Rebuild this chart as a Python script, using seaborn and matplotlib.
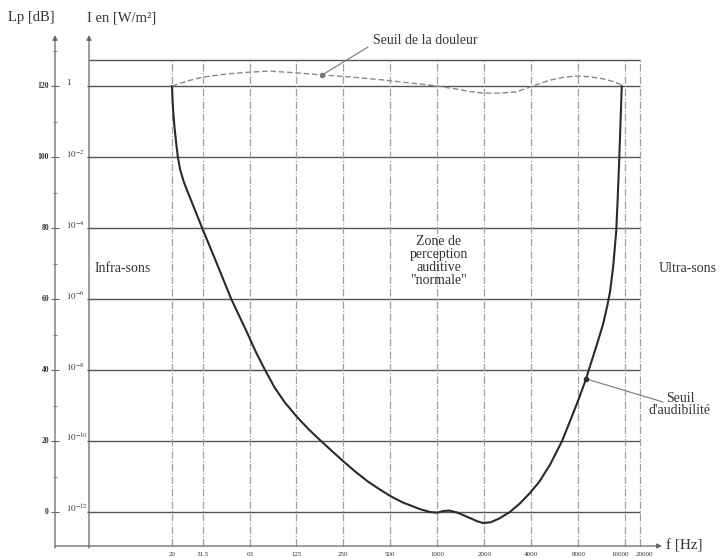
import matplotlib
matplotlib.use("Agg")
import matplotlib.pyplot as plt
import pandas as pd
import seaborn as sns

# Threshold of hearing: frequency [Hz] and sound level [dB]
hearing_freq = [20, 20.14, 20.35, 20.7, 21.2, 21.8, 22.6, 23.8, 25.3, 28.1, 31.2,
                38.4, 47.9, 60.6, 69, 78.9, 91, 105, 125, 150, 180, 210, 250, 300,
                359, 420, 500, 600, 776, 900, 1000, 1100, 1200, 1350, 1600, 1800,
                1960, 2200, 2500, 2920, 3400, 3930, 4500, 5300, 6300, 7000, 8000,
                8980, 9420, 10500, 11550, 12260, 12780, 13380, 14000, 14300, 14600,
                14900, 15200]
hearing_db = [120, 116.5, 113, 109, 104.5, 100, 96.3, 93, 90, 85, 80,
              70.4, 60, 50.5, 45, 40, 35, 31, 27, 23.3, 20, 17.3, 14.3, 11.3,
              8.6, 6.6, 4.5, 2.7, 0.8, 0, -0.2, 0.3, 0.4, -0.2, -1.6, -2.6,
              -3.1, -2.9, -1.8, 0, 2.5, 5.4, 8.5, 13.5, 20, 25, 31.5,
              37.5, 40.5, 47, 53, 58, 62, 69, 79, 88, 98,
              109, 120]

# Threshold of pain
pain_freq = [20, 25, 31.5, 45, 63, 84, 126, 183, 250, 320, 450, 600, 800, 1000,
             1300, 1600, 1960, 2500, 3200, 4100, 5200, 6500, 7800, 9500, 11600,
             13500, 14700, 15200]
pain_db = [120, 121.4, 122.5, 123.4, 123.9, 124.2, 123.7, 123.1, 122.7, 122.3,
           121.7, 121.1, 120.5, 120, 119.2, 118.5, 118, 118, 118.3, 120, 121.6,
           122.5, 122.8, 122.6, 122, 121.2, 120.6, 120]

grid_freq = [20, 31.5, 63, 125, 250, 500, 1000, 2000, 4000, 8000, 16000, 20000]
freq_labels = ["20", "31.5", "63", "125", "250", "500", "1000", "2000",
               "4000", "8000", "16000", "20000"]
level_db = [0, 20, 40, 60, 80, 100, 120]
level_labels = ["0", "20", "40", "60", "80", "100", "120"]
intensity_labels = [r"$10^{-12}$", r"$10^{-10}$", r"$10^{-8}$", r"$10^{-6}$",
                    r"$10^{-4}$", r"$10^{-2}$", "1"]

sns.set_theme(style="white")
plt.rcParams["font.family"] = ["Liberation Serif", "DejaVu Serif"]
plt.rcParams["mathtext.fontset"] = "stix"

W, H = 724, 558
fig = plt.figure(figsize=(W / 100, H / 100), dpi=100)
ax = fig.add_axes([0, 0, 1, 1])
ax.set_xscale("log")


# page layout helpers: pixel column -> frequency, pixel row -> dB
def fx(px):
    return 20 * 2 ** ((px - 172) / 47)


def dby(py):
    return (512 - py) * 120 / 426


ax.set_xlim(fx(0), fx(W))
ax.set_ylim(dby(H), dby(0))
ax.axis("off")

ink = "#2a2a2a"
grid_h = "#555555"
grid_v = "#a0a0a0"
top_db = dby(60)
bottom_db = dby(546)

# grid
ax.hlines(level_db, fx(87), grid_freq[-1], color=grid_h, lw=1.0, zorder=1)
ax.hlines(top_db, fx(89), grid_freq[-1], color=grid_h, lw=1.0, zorder=1)
ax.vlines(grid_freq, bottom_db, top_db, color=grid_v, lw=0.9,
          linestyles=[(0, (6, 1.5, 1, 1.5))], zorder=1)

# axes with arrows
arrow_kw = dict(arrowstyle="-|>", color="#666666", lw=0.9, mutation_scale=7,
                shrinkA=0, shrinkB=0)
ax.annotate("", xy=(55, H - 35), xytext=(55, H - 548), xycoords="figure pixels",
            arrowprops=arrow_kw)
ax.annotate("", xy=(89, H - 35), xytext=(89, H - 548), xycoords="figure pixels",
            arrowprops=arrow_kw)
ax.annotate("", xy=(662, H - 546), xytext=(55, H - 546), xycoords="figure pixels",
            arrowprops=arrow_kw)

# small ticks on the level axis
ax.hlines(level_db, fx(51), fx(59), color="#666666", lw=0.8)
ax.hlines([v + 10 for v in level_db], fx(53), fx(57), color="#888888", lw=0.7)

# curves
hear = pd.DataFrame({"f": hearing_freq, "L": hearing_db})
pain = pd.DataFrame({"f": pain_freq, "L": pain_db})
sns.lineplot(data=hear, x="f", y="L", ax=ax, sort=False, color=ink, lw=1.5, zorder=3)
sns.lineplot(data=pain, x="f", y="L", ax=ax, sort=False, color="#8a8a8a", lw=1.0,
             linestyle=(0, (4, 2)), zorder=3)
ax.set_xlabel("")
ax.set_ylabel("")

# callouts
ax.plot([183], [123.1], "o", ms=3, color="#777777", zorder=4)
ax.plot([183, fx(368)], [123.1, dby(47)], color="#777777", lw=0.8)
ax.plot([8980], [37.5], "o", ms=3, color=ink, zorder=4)
ax.plot([8980, fx(663)], [37.5, dby(402)], color="#777777", lw=0.8)

txt = "#333333"
ax.text(fx(425), dby(40), "Seuil de la douleur", ha="center", va="center",
        fontsize=10, color=txt)
ax.text(fx(439), dby(261), 'Zone de\nperception\nauditive\n"normale"', ha="center",
        va="center", fontsize=10, color=txt, linespacing=1.0)
ax.text(fx(95), dby(268), "Infra-sons", ha="left", va="center", fontsize=10, color=txt)
ax.text(fx(659), dby(268), "Ultra-sons", ha="left", va="center", fontsize=10, color=txt)
ax.text(fx(649), dby(405), "Seuil\nd'audibilité", ha="left", va="center",
        multialignment="center", fontsize=10, color=txt, linespacing=0.9)

fig.text(8 / W, 1 - 18 / H, "Lp [dB]", ha="left", va="center", fontsize=10.5, color=txt)
fig.text(87 / W, 1 - 18 / H, "I en [W/m²]", ha="left", va="center", fontsize=10.5,
         color=txt)
fig.text(666 / W, 1 - 546 / H, "f [Hz]", ha="left", va="center", fontsize=11, color=txt)

# tick labels
for v, lab in zip(level_db, level_labels):
    ax.text(fx(49), v, lab, ha="right", va="center", fontsize=5.5, color=txt,
            fontweight="bold")
for v, lab in zip(level_db, intensity_labels):
    ax.text(fx(66), v + 0.8, lab, ha="left", va="center", fontsize=6.5, color=txt)
for f, lab in zip(grid_freq, freq_labels):
    shift = {16000: 0.93, 20000: 1.06}.get(f, 1.0)
    ax.text(f * shift, dby(554), lab, ha="center", va="center", fontsize=5, color=txt)

fig.savefig("out.png", dpi=100, facecolor="white")
